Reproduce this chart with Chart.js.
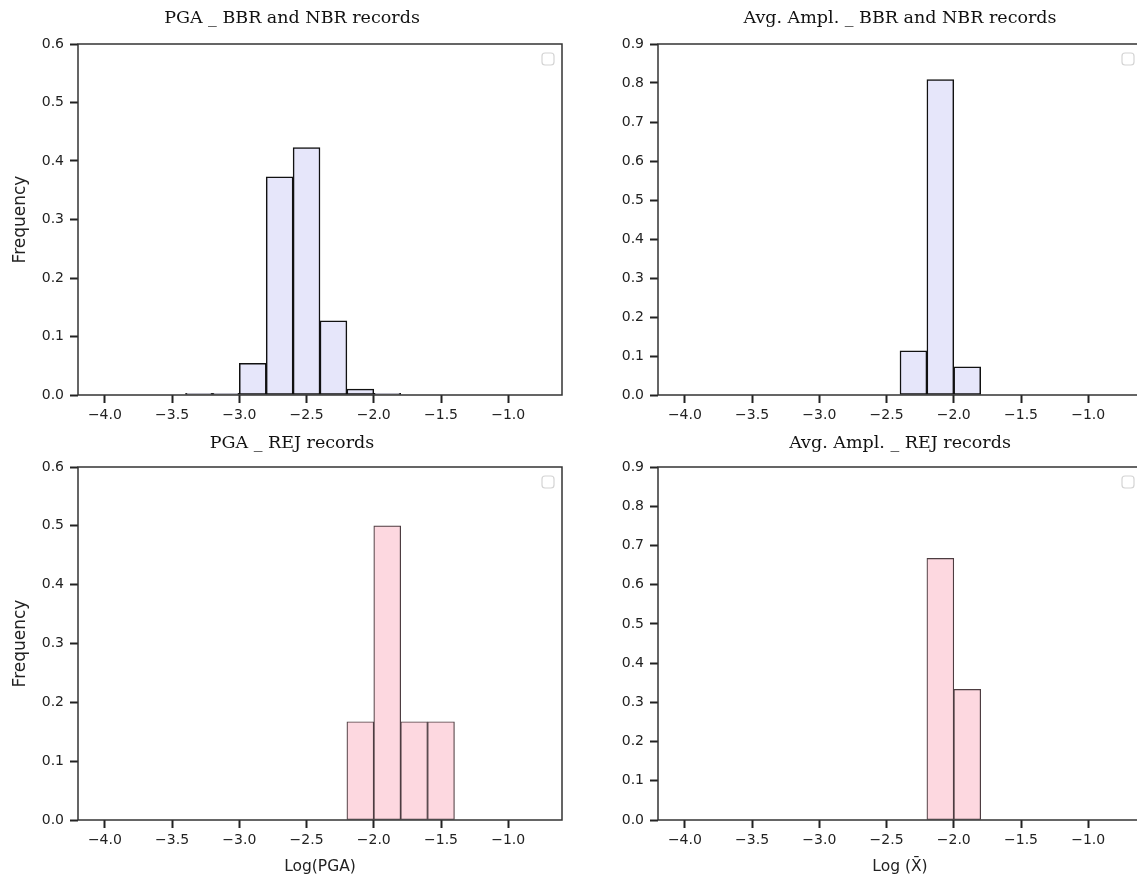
<!DOCTYPE html>
<html><head><meta charset="utf-8">
<script src="https://cdn.jsdelivr.net/npm/chart.js@4.4.1/dist/chart.umd.min.js"></script>
<style>
html,body{margin:0;padding:0;background:#fff;overflow:hidden;width:1137px;height:882px;position:relative}
canvas{position:absolute}
</style></head><body>
<canvas id="c1" width="584" height="425" style="left:0;top:0"></canvas>
<canvas id="c2" width="600" height="425" style="left:600px;top:0"></canvas>
<canvas id="c3" width="584" height="457" style="left:0;top:425px"></canvas>
<canvas id="c4" width="600" height="457" style="left:600px;top:425px"></canvas>
<script>
// ---- data ----
const xTickValues = [-4.0, -3.5, -3.0, -2.5, -2.0, -1.5, -1.0];
const xTickLabels = ['\u22124.0', '\u22123.5', '\u22123.0', '\u22122.5', '\u22122.0', '\u22121.5', '\u22121.0'];
const yTicksPGA = [0.0, 0.1, 0.2, 0.3, 0.4, 0.5, 0.6];
const yTicksAmp = [0.0, 0.1, 0.2, 0.3, 0.4, 0.5, 0.6, 0.7, 0.8, 0.9];

const pgaNbrBins = [-3.3, -3.1, -2.9, -2.7, -2.5, -2.3, -2.1, -1.9];
const pgaNbrFreq = [0.003, 0.003, 0.054, 0.373, 0.423, 0.127, 0.010, 0.003];
const ampNbrBins = [-2.3, -2.1, -1.9];
const ampNbrFreq = [0.113, 0.809, 0.072];
const pgaRejBins = [-2.1, -1.9, -1.7, -1.5];
const pgaRejFreq = [0.167, 0.500, 0.167, 0.167];
const ampRejBins = [-2.1, -1.9];
const ampRejFreq = [0.667, 0.333];

const titles = ['PGA _ BBR and NBR records', 'Avg. Ampl. _ BBR and NBR records', 'PGA _ REJ records', 'Avg. Ampl. _ REJ records'];
const xTitles = ['', '', 'Log(PGA)', 'Log (X\u0304)'];
const yTitle = 'Frequency';

// ---- rendering ----
const framePlugin = {
  id: 'frame',
  afterDatasetsDraw(chart) {
    const {ctx, chartArea: a} = chart;
    ctx.save();
    ctx.strokeStyle = '#333';
    ctx.lineWidth = 1.5;
    ctx.strokeRect(a.left, a.top, a.right - a.left, a.bottom - a.top);
    ctx.strokeStyle = '#d4d4d4';
    ctx.lineWidth = 1.2;
    ctx.beginPath();
    ctx.roundRect(a.right - 20, a.top + 9, 12, 12, 3);
    ctx.stroke();
    ctx.restore();
  }
};

function makeChart(id, o) {
  const data = o.bins.map((b, i) => ({x: b, y: o.freq[i]}));
  new Chart(document.getElementById(id), {
    type: 'bar',
    data: {datasets: [{
      data: data,
      backgroundColor: o.fill,
      borderColor: o.edge,
      borderWidth: o.edgeWidth,
      borderSkipped: false,
      barPercentage: 1,
      categoryPercentage: 1
    }]},
    options: {
      responsive: false,
      devicePixelRatio: 1,
      animation: false,
      layout: {padding: 0},
      plugins: {
        legend: {display: false},
        tooltip: {enabled: false},
        title: {
          display: true, text: o.title, color: '#111',
          font: {family: 'DejaVu Serif', size: 17.5, weight: 'normal'},
          padding: {top: 8, bottom: o.titleGap}
        }
      },
      scales: {
        x: {
          type: 'linear', min: -4.2, max: -0.6, offset: false,
          afterBuildTicks: s => { s.ticks = xTickValues.map(v => ({value: v})); },
          afterFit: s => { s.height = o.xHeight; },
          ticks: {
            autoSkip: false, maxRotation: 0, padding: 4, color: '#222',
            font: {family: 'DejaVu Sans', size: 14},
            callback: (v) => { const i = xTickValues.indexOf(v); return i >= 0 ? xTickLabels[i] : ''; }
          },
          grid: {display: true, offset: false, drawOnChartArea: false, drawTicks: true, tickLength: 8, tickWidth: 2, tickColor: '#222'},
          border: {display: false},
          title: {
            display: !!o.xTitle, text: o.xTitle, color: '#222',
            font: {family: 'DejaVu Sans', size: 15.5}, padding: {top: 0, bottom: 6}
          }
        },
        y: {
          type: 'linear', min: 0, max: o.yMax, position: 'left',
          afterBuildTicks: s => { s.ticks = o.yTicks.map(v => ({value: v})); },
          afterFit: s => { s.width = o.yWidth; },
          ticks: {
            padding: 6, color: '#222',
            font: {family: 'DejaVu Sans', size: 14},
            callback: v => Number(v).toFixed(1)
          },
          grid: {display: true, drawOnChartArea: false, drawTicks: true, tickLength: 8, tickWidth: 2, tickColor: '#222'},
          border: {display: false},
          title: {
            display: !!o.yTitle, text: o.yTitle, color: '#222',
            font: {family: 'DejaVu Sans', size: 17}, padding: {top: 10, bottom: 0}
          }
        },
        y2: {
          type: 'linear', position: 'right', display: true,
          grid: {display: false}, ticks: {display: false}, border: {display: false},
          afterFit: s => { s.width = o.rightPad; }
        }
      }
    },
    plugins: [framePlugin]
  });
}

const lavender = '#E6E6FA', lavEdge = '#111';
const pink = '#FDD8E0', pinkEdge = '#4d3d41';

makeChart('c1', {bins: pgaNbrBins, freq: pgaNbrFreq, fill: lavender, edge: lavEdge, edgeWidth: 1.5,
  title: titles[0], titleGap: 15, xTitle: xTitles[0], yTitle: yTitle, yMax: 0.6, yTicks: yTicksPGA,
  yWidth: 78, rightPad: 22, xHeight: 30});
makeChart('c2', {bins: ampNbrBins, freq: ampNbrFreq, fill: lavender, edge: lavEdge, edgeWidth: 1.5,
  title: titles[1], titleGap: 15, xTitle: xTitles[1], yTitle: '', yMax: 0.9, yTicks: yTicksAmp,
  yWidth: 58, rightPad: 58, xHeight: 30});
makeChart('c3', {bins: pgaRejBins, freq: pgaRejFreq, fill: pink, edge: pinkEdge, edgeWidth: 1.2,
  title: titles[2], titleGap: 13, xTitle: xTitles[2], yTitle: yTitle, yMax: 0.6, yTicks: yTicksPGA,
  yWidth: 78, rightPad: 22, xHeight: 62});
makeChart('c4', {bins: ampRejBins, freq: ampRejFreq, fill: pink, edge: pinkEdge, edgeWidth: 1.2,
  title: titles[3], titleGap: 13, xTitle: xTitles[3], yTitle: '', yMax: 0.9, yTicks: yTicksAmp,
  yWidth: 58, rightPad: 58, xHeight: 62});
</script>
</body></html>
